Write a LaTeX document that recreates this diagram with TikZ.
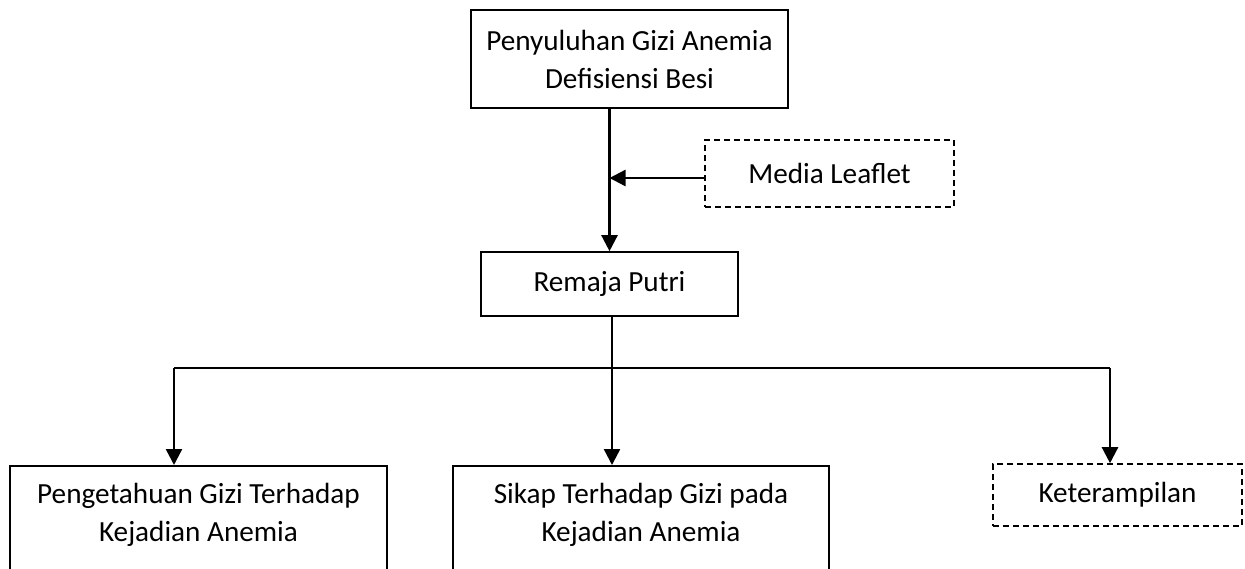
\documentclass[tikz,border=0pt]{standalone}
\usepackage{fontspec}
\setmainfont{Carlito}
\usetikzlibrary{arrows.meta}
\usetikzlibrary{positioning}

\begin{document}
\begin{tikzpicture}
	[x=0.5pt,y=-0.5pt,
	every node/.style={font=\fontsize{14.6pt}{19pt}\selectfont,align=center,inner sep=0pt},
	box/.style={draw,line width=0.8pt},
	dbox/.style={draw,line width=0.8pt,dash pattern=on 3pt off 2pt},
	arr/.style={line width=1.2pt,-{Triangle[length=8pt,width=8pt]}},
	thin line/.style={line width=0.6pt}]
	\useasboundingbox (0,0) rectangle (1245,568);
	
	\node[box,minimum width=158.5pt,minimum height=49pt] (penyuluhan) at (629.5,59) {Penyuluhan Gizi Anemia\\Defisiensi Besi};
	\node[dbox,minimum width=124.5pt,minimum height=33.5pt] (leaflet) at (829.5,173.5) {Media Leaflet};
	\node[box,minimum width=128.5pt,minimum height=32pt] (remaja) at (609.5,284) {Remaja Putri};
	\node[box,anchor=north,minimum width=188.5pt,minimum height=66pt] (pengetahuan) at (198.5,465) {Pengetahuan Gizi Terhadap\\Kejadian Anemia\\\mbox{}};
	\node[box,anchor=north,minimum width=188pt,minimum height=66pt] (sikap) at (641,465) {Sikap Terhadap Gizi pada\\Kejadian Anemia\\\mbox{}};
	\node[dbox,minimum width=124.5pt,minimum height=31pt] (keterampilan) at (1117.5,495) {Keterampilan};
	
	\coordinate (lf) at ([yshift=-2.25pt]leaflet.west);
	\coordinate (jL) at (174,368);
	\coordinate (jM) at (612,368);
	\coordinate (jR) at (1110,368);
	
	\draw[arr] (penyuluhan.south -| remaja.north) -- (remaja.north);
	\draw[arr] (lf) -- (lf -| remaja.north);
	\draw[thin line] (jM |- remaja.south) -- (jM);
	\draw[thin line] (jL) -- (jR);
	
	\foreach \from/\to in
	{jL/pengetahuan, jM/sikap, jR/keterampilan}
	\draw[arr] (\from) -- (\from |- \to.north);
\end{tikzpicture}
\end{document}
